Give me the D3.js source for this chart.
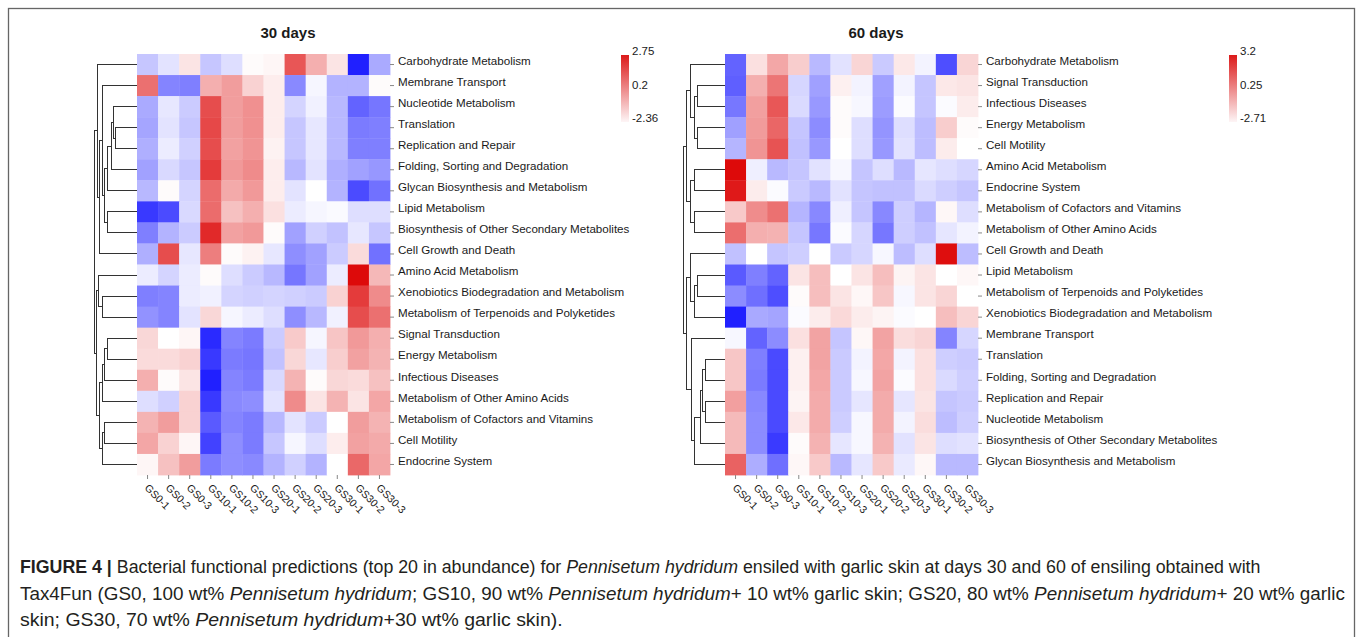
<!DOCTYPE html>
<html>
<head>
<meta charset="utf-8">
<title>Figure 4 - functional prediction heatmaps</title>
<script src="https://cdn.jsdelivr.net/npm/d3@7"></script>
<style>
  body { margin: 0; background: #fff; }
  svg text { font-family: "Liberation Sans", Arial, Helvetica, sans-serif; fill: #1a1a1a; }
  .title { font-size: 15px; font-weight: bold; }
  .rowaxis text { font-size: 11.6px; }
  .colaxis text { font-size: 10.5px; }
  .leglab { font-size: 11.5px; }
  .caption text { font-size: 18.5px; fill: #231f20; }
  .tree { fill: none; stroke: #333; stroke-width: 1; shape-rendering: crispEdges; }
  .tick line { stroke: #888; }
</style>
</head>
<body>
<script>
// ---- data ----
var samples = ["GS0-1","GS0-2","GS0-3","GS10-1","GS10-2","GS10-3","GS20-1","GS20-2","GS20-3","GS30-1","GS30-2","GS30-3"];

var rows30 = ["Carbohydrate Metabolism","Membrane Transport","Nucleotide Metabolism","Translation",
  "Replication and Repair","Folding, Sorting and Degradation","Glycan Biosynthesis and Metabolism",
  "Lipid Metabolism","Biosynthesis of Other Secondary Metabolites","Cell Growth and Death",
  "Amino Acid Metabolism","Xenobiotics Biodegradation and Metabolism","Metabolism of Terpenoids and Polyketides",
  "Signal Transduction","Energy Metabolism","Infectious Diseases","Metabolism of Other Amino Acids",
  "Metabolism of Cofactors and Vitamins","Cell Motility","Endocrine System"];

var values30 = [
  [-0.6,-0.3, 0.3,-0.6,-0.35, 0.05, 0.1, 1.9, 0.9, 0.3,-2.36,-0.9],
  [ 1.6,-1.3,-1.35, 0.9, 1.1, 0.5, 0.2,-1.25,-0.1,-0.8,-0.8, 0.05],
  [-0.9,-0.25,-0.55, 2.0, 1.1, 1.25, 0.2,-0.45,-0.15,-0.75,-1.65,-1.45],
  [-0.95,-0.3,-0.6, 2.05, 1.1, 1.25, 0.2,-0.6,-0.25,-0.75,-1.4,-1.35],
  [-0.85,-0.2,-0.5, 2.0, 1.05, 1.2, 0.15,-0.6,-0.25,-0.75,-1.35,-1.35],
  [-1.0,-0.4,-0.6, 2.2, 1.15, 1.3, 0.2,-0.75,-0.3,-0.85,-1.0,-1.1],
  [-0.75, 0.05,-0.45, 1.65, 0.95, 1.15, 0.2,-0.3, 0.0,-0.8,-1.9,-1.5],
  [-2.1,-1.9,-0.4, 1.65, 0.7, 0.9, 0.35,-0.2,-0.1,-0.05,-0.35,-0.35],
  [-1.35,-0.8,-0.55, 2.4, 1.05, 1.15, 0.05,-1.0,-0.5,-0.65,-0.25,-0.6],
  [-0.85, 2.0,-0.25, 1.45, 0.05, 0.15,-0.25,-1.2,-1.0,-0.55, 0.4,-1.5],
  [-0.2,-0.45,-0.2, 0.05,-0.35,-0.55,-0.75,-1.45,-1.0,-0.2, 2.75, 0.8],
  [-1.35,-1.3,-0.2,-0.15,-0.45,-0.5,-0.45,-0.5,-0.55, 0.5, 2.2, 1.3],
  [-1.15,-1.3,-0.3, 0.45,-0.1,-0.2,-0.35,-1.2,-0.75,-0.15, 2.0, 1.6],
  [ 0.45, 0.0, 0.1,-2.25,-1.3,-1.4,-0.55, 0.6,-0.1, 0.65, 1.15, 0.9],
  [ 0.4, 0.4, 0.5,-2.1,-1.4,-1.45,-0.65, 0.45,-0.25, 0.55, 1.05, 0.85],
  [ 0.9, 0.05, 0.3,-2.36,-1.3,-1.4,-0.4, 0.85, 0.05, 0.45, 0.4, 0.7],
  [-0.35,-0.5, 0.5,-2.1,-1.25,-1.2,-0.3, 1.3, 0.3, 0.85, 0.3, 1.0],
  [ 0.85, 1.1, 0.5,-1.75,-1.3,-1.4,-0.75,-0.3,-0.55, 0.0, 1.1, 0.85],
  [ 1.0, 0.5, 0.1,-2.0,-1.2,-1.4,-0.6,-0.1,-0.35, 0.2, 1.05, 0.95],
  [ 0.1, 0.7, 1.1,-1.4,-1.2,-1.25,-0.8,-0.5,-0.8, 0.0, 1.7, 1.0]
];

// hclust style merges: negative = row (-1 is first row), positive = earlier merge; third = height
var merge30 = [
  [-4,-5,21.3],[-3,1,24],[2,-6,26],[-8,-9,29.7],[3,-7,29.7],[5,4,32.3],[-2,6,35],[7,-10,37.7],[-1,8,40],
  [-12,-13,35],[-11,10,38.3],[-14,-15,29.7],[12,-16,32.3],[13,-17,35],[-18,-19,32.3],[15,-20,35],
  [14,16,37.7],[11,17,40.7],[9,18,43]
];
var legend30 = [2.75, 0.2, -2.36];

var rows60 = ["Carbohydrate Metabolism","Signal Transduction","Infectious Diseases","Energy Metabolism",
  "Cell Motility","Amino Acid Metabolism","Endocrine System","Metabolism of Cofactors and Vitamins",
  "Metabolism of Other Amino Acids","Cell Growth and Death","Lipid Metabolism",
  "Metabolism of Terpenoids and Polyketides","Xenobiotics Biodegradation and Metabolism","Membrane Transport",
  "Translation","Folding, Sorting and Degradation","Replication and Repair","Nucleotide Metabolism",
  "Biosynthesis of Other Secondary Metabolites","Glycan Biosynthesis and Metabolism"];

var values60 = [
  [-1.9, 0.4, 1.15, 0.65,-0.85,-0.35, 0.55,-0.65, 0.3,-0.15,-2.15, 0.55],
  [-1.95, 1.05, 1.8,-0.5,-1.15, 0.2,-0.15,-1.15,-0.15,-0.7, 0.3, 0.35],
  [-1.65, 1.25, 2.2,-0.45,-1.25, 0.05,-0.1,-1.2,-0.05,-0.7,-0.05, 0.25],
  [-1.15, 1.3, 2.0,-0.7,-1.4, 0.05,-0.4,-1.3,-0.4,-0.8, 0.65, 0.05],
  [-0.9, 1.4, 2.25,-0.75,-1.25, 0.0,-0.4,-1.25,-0.35,-0.8, 0.25, 0.0],
  [ 3.2,-0.2,-0.85,-0.7,-0.35,-0.1,-0.7,-0.4,-0.85,-0.3,-0.4,-0.5],
  [ 3.0, 0.25,-0.05,-0.65,-0.85,-0.35,-0.7,-0.75,-0.75,-0.45,-0.6,-0.7],
  [ 0.7, 1.5, 1.85,-0.9,-1.45,-0.2,-0.7,-1.45,-0.6,-0.9, 0.1,-0.4],
  [ 1.9, 1.05, 1.0,-0.7,-1.65,-0.05,-0.5,-1.65,-0.6,-0.75,-0.3,-0.15],
  [-0.75, 0.0,-0.7,-0.6, 0.0,-0.65,-0.5,-0.1,-0.8,-0.4, 3.15,-0.8],
  [-2.0,-1.55,-1.9, 0.35, 0.85, 0.0, 0.35, 0.85, 0.15, 0.35, 0.0, 0.1],
  [-1.4,-1.75,-2.15, 0.05, 0.85, 0.35, 0.1, 0.75,-0.1, 0.35, 0.55, 0.0],
  [-2.71,-1.05,-1.1,-0.05, 0.25, 0.5, 0.25, 0.15,-0.05, 0.0, 0.85, 0.55],
  [-0.1,-1.9,-1.4, 0.4, 1.2,-0.7, 0.1, 1.2, 0.45, 0.55,-1.5,-0.5],
  [ 0.75,-1.55,-2.2, 0.2, 1.2,-0.65,-0.15, 1.15,-0.15, 0.4,-0.6,-0.65],
  [ 0.75,-1.6,-2.2, 0.2, 1.15,-0.65,-0.1, 1.2,-0.05, 0.4,-0.45,-0.6],
  [ 1.25,-1.45,-2.2, 0.15, 1.1,-0.65,-0.3, 1.1,-0.3, 0.35,-0.7,-0.65],
  [ 0.9,-1.4,-2.2, 0.3, 1.1,-0.6,-0.1, 1.1,-0.15, 0.45,-0.8,-0.6],
  [ 0.9,-1.4,-2.4, 0.05, 1.0,-0.3,-0.1, 1.0,-0.35, 0.35,-0.4,-0.35],
  [ 2.05,-1.0,-1.75, 0.1, 0.7,-0.85,-0.3, 0.7,-0.25, 0.1,-0.85,-0.85]
];

var merge60 = [
  [-2,-3,27.7],[-4,-5,27.7],[1,2,31],[-1,3,35],[-6,-7,31],[-8,-9,31],[5,6,34.3],[4,7,39],
  [-11,-12,27.7],[9,-13,31],[-10,10,34.3],[-15,-16,20],[-17,-18,20],[12,13,22.3],[14,-19,24.3],
  [15,-20,31],[-14,16,34],[11,17,38.3],[8,18,41.7]
];
var legend60 = [3.2, 0.25, -2.71];

var captionLines = [
  [["FIGURE 4 | ","b"],["Bacterial functional predictions (top 20 in abundance) for ",""],["Pennisetum hydridum","i"],
   [" ensiled with garlic skin at days 30 and 60 of ensiling obtained with",""]],
  [["Tax4Fun (GS0, 100 wt% ",""],["Pennisetum hydridum","i"],["; GS10, 90 wt% ",""],["Pennisetum hydridum","i"],
   ["+ 10 wt% garlic skin; GS20, 80 wt% ",""],["Pennisetum hydridum","i"],["+ 20 wt% garlic",""]],
  [["skin; GS30, 70 wt% ",""],["Pennisetum hydridum","i"],["+30 wt% garlic skin).",""]]
];
var captionWidths = [1242, 1326, 543];

// ---- drawing ----
var W = 1357, H = 637;
var svg = d3.select("body").append("svg").attr("width", W).attr("height", H);

svg.append("rect").attr("x", 8.5).attr("y", 8.5).attr("width", 1346).attr("height", 700)
  .attr("fill", "none").attr("stroke", "#666").attr("stroke-width", 1.3);

var defs = svg.append("defs");
var grad = defs.append("linearGradient").attr("id", "leg").attr("x1", 0).attr("y1", 0).attr("x2", 0).attr("y2", 1);
grad.append("stop").attr("offset", "0%").attr("stop-color", "#dc1a1a");
grad.append("stop").attr("offset", "100%").attr("stop-color", "#fdf5f6");

function drawPanel(o) {
  var g = svg.append("g");
  var x = d3.scaleBand().domain(samples).range([o.left, o.left + 253]);
  var y = d3.scaleBand().domain(d3.range(o.rows.length)).range([54, 475]);
  var color = d3.scaleLinear().domain([o.legend[2], 0, o.legend[0]])
    .range(["#2020ff", "#ffffff", "#dd0a0a"]).clamp(true);

  var cells = [];
  o.values.forEach(function(r, i) { r.forEach(function(v, j) { cells.push({i: i, j: j, v: v}); }); });
  g.selectAll("rect.cell").data(cells).enter().append("rect")
    .attr("class", "cell")
    .attr("x", function(d) { return x(samples[d.j]); })
    .attr("y", function(d) { return y(d.i); })
    .attr("width", x.bandwidth() + 0.4)
    .attr("height", y.bandwidth() + 0.4)
    .attr("fill", function(d) { return color(d.v); });

  // row labels, sitting just above the tick
  var ra = g.append("g").attr("class", "rowaxis")
    .attr("transform", "translate(" + (o.left + 253) + ",0)")
    .call(d3.axisRight(y).tickSize(4).tickPadding(4).tickFormat(function(i) { return o.rows[i]; }));
  ra.select(".domain").remove();
  ra.selectAll("text").attr("dy", "0.02em");

  // column labels
  var ca = g.append("g").attr("class", "colaxis")
    .attr("transform", "translate(0,475)")
    .call(d3.axisBottom(x).tickSize(4));
  ca.select(".domain").remove();
  ca.selectAll("text")
    .attr("x", 0).attr("y", 0).attr("dy", "0.35em")
    .attr("transform", "translate(-1,11) rotate(45)")
    .style("text-anchor", "start");

  // dendrogram
  var maxH = d3.max(o.merge, function(m) { return m[2]; });
  var hx = d3.scaleLinear().domain([0, maxH]).range([o.left, o.left - maxH]);
  var nodes = [];
  function node(k) {
    if (k < 0) return {y: y(-k - 1) + y.bandwidth() / 2, h: 0};
    return nodes[k - 1];
  }
  var path = d3.path();
  o.merge.forEach(function(m) {
    var a = node(m[0]), b = node(m[1]);
    path.moveTo(hx(a.h), a.y);
    path.lineTo(hx(m[2]), a.y);
    path.lineTo(hx(m[2]), b.y);
    path.lineTo(hx(b.h), b.y);
    nodes.push({y: (a.y + b.y) / 2, h: m[2]});
  });
  g.append("path").attr("class", "tree").attr("d", path.toString());

  // title
  g.append("text").attr("class", "title")
    .attr("x", o.left + 126.5 + 24.5).attr("y", 38)
    .attr("text-anchor", "middle").text(o.title);

  // legend: labels have their baseline on the top, middle and bottom of the bar
  g.append("rect").attr("x", o.legX).attr("y", 55).attr("width", 8).attr("height", 67)
    .attr("fill", "url(#leg)");
  var labY = [55, 88.5, 122];
  o.legend.forEach(function(v, k) {
    g.append("text").attr("class", "leglab")
      .attr("x", o.legX + 11).attr("y", labY[k]).text(v);
  });
}

drawPanel({title: "30 days", left: 137, rows: rows30, values: values30, merge: merge30, legend: legend30, legX: 621});
drawPanel({title: "60 days", left: 725, rows: rows60, values: values60, merge: merge60, legend: legend60, legX: 1229});

// caption, squeezed to the line widths of the original
var cap = svg.append("g").attr("class", "caption");
var baseY = [573, 600, 626];
captionLines.forEach(function(line, k) {
  var t = cap.append("text").attr("x", 0).attr("y", 0);
  line.forEach(function(seg) {
    var s = t.append("tspan").text(seg[0]);
    if (seg[1] === "b") s.style("font-weight", "bold");
    if (seg[1] === "i") s.style("font-style", "italic");
  });
  var w = t.node().getComputedTextLength();
  t.attr("transform", "translate(20," + baseY[k] + ") scale(" + (captionWidths[k] / w) + ",1)");
});
</script>
</body>
</html>
